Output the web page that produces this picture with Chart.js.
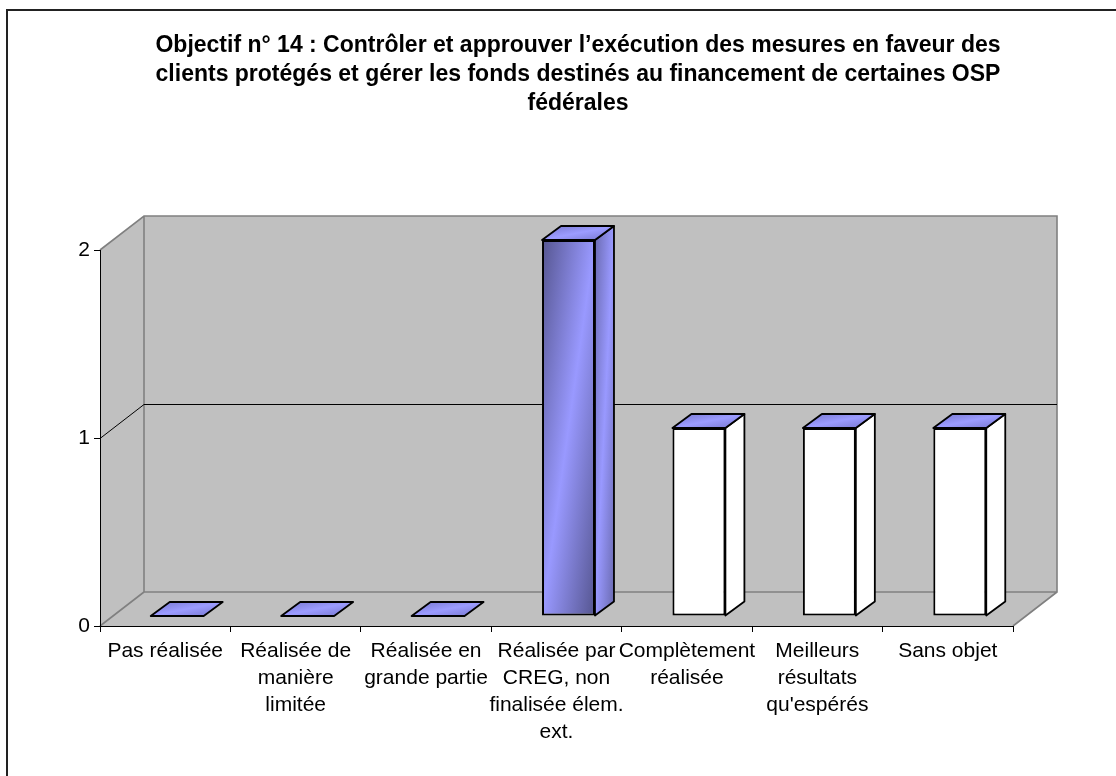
<!DOCTYPE html>
<html>
<head>
<meta charset="utf-8">
<style>
html,body{margin:0;padding:0;background:#fff}
canvas{display:block}
</style>
<script src="https://cdn.jsdelivr.net/npm/chart.js@4"></script>
</head>
<body>
<canvas id="c" width="1116" height="776" style="width:1116px;height:776px"></canvas>
<script>
const titleLines = [
  "Objectif n° 14 : Contrôler et approuver l’exécution des mesures en faveur des",
  "clients protégés et gérer les fonds destinés au financement de certaines OSP",
  "fédérales"
];
const categories = [
  ["Pas réalisée"],
  ["Réalisée de", "manière", "limitée"],
  ["Réalisée en", "grande partie"],
  ["Réalisée par", "CREG, non", "finalisée élem.", "ext."],
  ["Complètement", "réalisée"],
  ["Meilleurs", "résultats", "qu'espérés"],
  ["Sans objet"]
];
const values = [0, 0, 0, 2, 1, 1, 1];
const purpleFront = [true, true, true, true, false, false, false];

const FONT = "'Liberation Sans', Arial, sans-serif";
const WALL = "#c0c0c0", EDGE = "#808080", INK = "#000";
// Depth of the box floor and inset of the columns within it
const WALL_DX = 44, WALL_DY = -34, BAR_DX = 12, BAR_DY = -10, CAP_DX = 19, CAP_DY = -14;

// Linear gradient whose bright band runs along the box's anti-diagonal
function sheen(ctx, x0, y0, x1, y1, dark, light) {
  const w = x1 - x0, h = y1 - y0, cx = (x0 + x1) / 2, cy = (y0 + y1) / 2;
  const n = Math.hypot(h, w) || 1, ux = h / n, uy = w / n;
  const t = (w / 2) * ux + (h / 2) * uy;
  const g = ctx.createLinearGradient(cx - ux * t, cy - uy * t, cx + ux * t, cy + uy * t);
  g.addColorStop(0, dark);
  g.addColorStop(0.5, light);
  g.addColorStop(1, dark);
  return g;
}

function poly(ctx, pts, fill, stroke, width) {
  ctx.beginPath();
  pts.forEach((p, i) => i ? ctx.lineTo(p[0], p[1]) : ctx.moveTo(p[0], p[1]));
  ctx.closePath();
  if (fill) { ctx.fillStyle = fill; ctx.fill(); }
  if (stroke) { ctx.strokeStyle = stroke; ctx.lineWidth = width; ctx.lineJoin = "round"; ctx.stroke(); }
}

const box3d = {
  id: "box3d",
  beforeDraw(chart) {
    const { ctx, chartArea: a, scales: { y } } = chart;
    const L = a.left, R = a.right, T = a.top, B = a.bottom;
    const dx = WALL_DX, dy = WALL_DY;
    ctx.save();
    // Page frame, open towards the right and bottom edges
    ctx.strokeStyle = "#222";
    ctx.lineWidth = 2;
    ctx.beginPath();
    ctx.moveTo(7, 776); ctx.lineTo(7, 10); ctx.lineTo(1116, 10);
    ctx.stroke();
    // Walls and floor
    poly(ctx, [[L + dx, T + dy], [R + dx, T + dy], [R + dx, B + dy], [L + dx, B + dy]], WALL);
    poly(ctx, [[L, T], [L + dx, T + dy], [L + dx, B + dy], [L, B]], WALL);
    poly(ctx, [[L, B], [L + dx, B + dy], [R + dx, B + dy], [R, B]], WALL);
    ctx.strokeStyle = EDGE;
    ctx.lineWidth = 1.6;
    ctx.beginPath();
    ctx.moveTo(L, T); ctx.lineTo(L + dx, T + dy); ctx.lineTo(R + dx, T + dy); ctx.lineTo(R + dx, B + dy);
    ctx.lineTo(R, B);
    ctx.moveTo(L + dx, T + dy); ctx.lineTo(L + dx, B + dy); ctx.lineTo(R + dx, B + dy);
    ctx.moveTo(L + dx, B + dy); ctx.lineTo(L, B);
    ctx.stroke();
    // Value gridlines wrapped around the side and back walls
    ctx.strokeStyle = INK;
    ctx.lineWidth = 1;
    y.ticks.forEach(t => {
      if (t.value === y.min || t.value === y.max) return;
      const py = Math.round(y.getPixelForValue(t.value)) + 0.5;
      ctx.beginPath();
      ctx.moveTo(L, py); ctx.lineTo(L + dx, py + dy); ctx.lineTo(R + dx, py + dy);
      ctx.stroke();
    });
    ctx.restore();
  },
  beforeDatasetsDraw(chart) {
    const { ctx } = chart;
    const meta = chart.getDatasetMeta(0);
    ctx.save();
    meta.data.forEach((bar, i) => {
      const half = bar.width / 2;
      const x0 = bar.x - half + BAR_DX, x1 = bar.x + half + BAR_DX;
      const yt = bar.y + BAR_DY, yb = bar.base + BAR_DY;
      const sideFill = purpleFront[i]
        ? sheen(ctx, x1, yt + CAP_DY, x1 + CAP_DX, yb, "#6a6ab0", "#9999ff")
        : "#fff";
      if (yb > yt) {
        poly(ctx, [[x1, yt], [x1 + CAP_DX, yt + CAP_DY], [x1 + CAP_DX, yb + CAP_DY], [x1, yb]], sideFill, INK, 1.8);
      }
      const capFill = sheen(ctx, x0, yt + CAP_DY, x1 + CAP_DX, yt, "#7474cc", "#9c9cff");
      poly(ctx, [[x0, yt], [x0 + CAP_DX, yt + CAP_DY], [x1 + CAP_DX, yt + CAP_DY], [x1, yt]], capFill, INK, 1.8);
    });
    // The columns' front faces stand forward of the axis plane
    ctx.translate(BAR_DX, BAR_DY);
  },
  afterDatasetsDraw(chart) {
    chart.ctx.restore();
  },
  afterLayout(chart) {
    // The heading is centred right of the plot's own centre
    const title = chart.titleBlock;
    title.left += 71.5;
    title.right += 71.5;
  }
};

function frontFill(c) {
  const i = c.dataIndex;
  if (i === undefined || !purpleFront[i]) return "#fff";
  const { x, y } = c.chart.scales;
  const half = 26.5;
  const px = x.getPixelForValue(i);
  const top = y.getPixelForValue(values[i]), bottom = y.getPixelForValue(0);
  if (![px, top, bottom].every(Number.isFinite)) return "#9999ff";
  return sheen(c.chart.ctx, px - half, top, px + half, bottom, "#55558f", "#9999ff");
}

new Chart(document.getElementById("c"), {
  type: "bar",
  plugins: [box3d],
  data: {
    labels: categories,
    datasets: [{
      data: values,
      clip: false,
      backgroundColor: frontFill,
      borderColor: INK,
      borderWidth: 2,
      borderSkipped: false,
      categoryPercentage: 1,
      barPercentage: 0.406
    }]
  },
  options: {
    responsive: false,
    animation: false,
    layout: { padding: { left: 0, right: 103, top: 0, bottom: 0 } },
    plugins: {
      legend: { display: false },
      tooltip: { enabled: false },
      title: {
        display: true,
        text: titleLines,
        color: INK,
        font: { family: FONT, size: 23, weight: "bold", lineHeight: "29px" },
        padding: { top: 31, bottom: 132 }
      }
    },
    scales: {
      x: {
        grid: { drawOnChartArea: false, tickLength: 6, tickColor: INK },
        border: { color: INK },
        ticks: {
          color: INK, autoSkip: false, maxRotation: 0, minRotation: 0, padding: 6,
          font: { family: FONT, size: 21, lineHeight: "27px" }
        },
        afterFit(s) { s.height = 150; }
      },
      y: {
        min: 0, max: 2,
        grid: { drawOnChartArea: false, tickLength: 6, tickColor: INK },
        border: { color: INK },
        ticks: {
          color: INK, stepSize: 1, padding: 4,
          font: { family: FONT, size: 21 }
        },
        afterFit(s) { s.width = 100; }
      }
    }
  }
});
</script>
</body>
</html>
